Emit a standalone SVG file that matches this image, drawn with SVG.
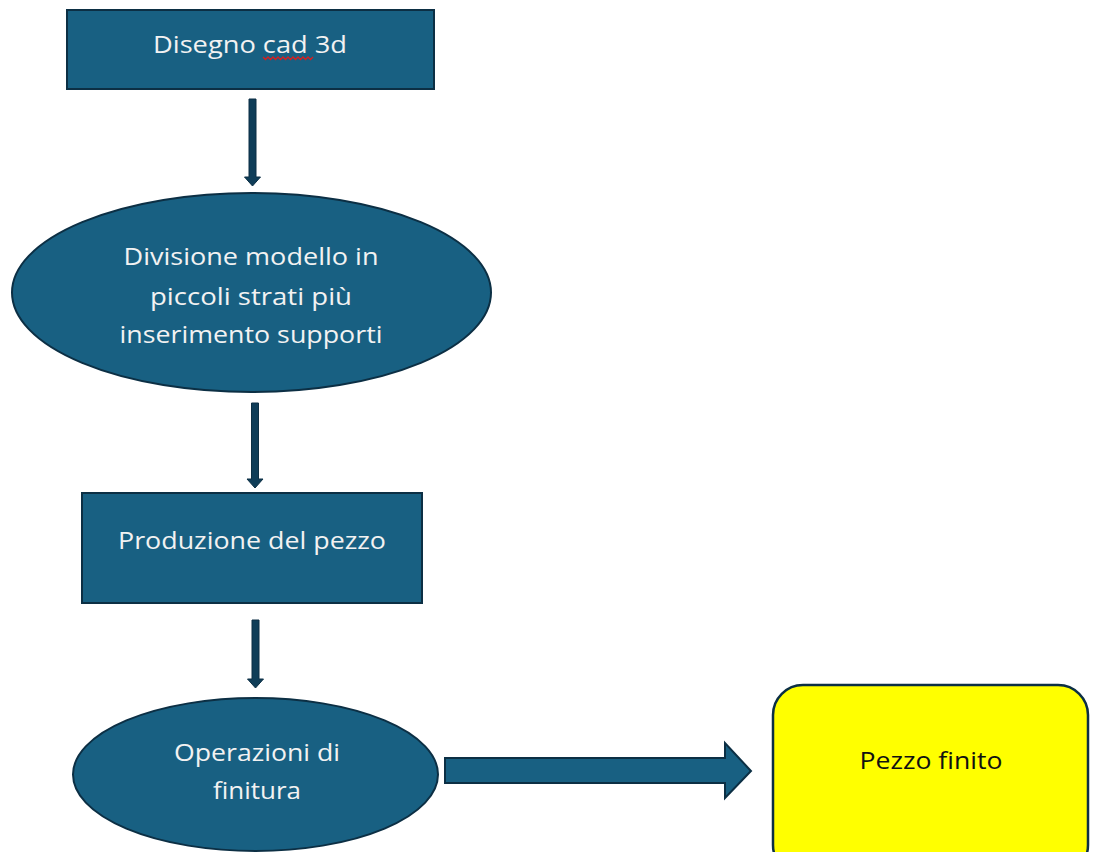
<svg xmlns="http://www.w3.org/2000/svg" width="1094" height="852" viewBox="0 0 1094 852">
<style>
.shape{fill:#186082;stroke:#0c2f44;stroke-width:2}
.lbl{font-family:"Open Sans","Liberation Sans",Arial,sans-serif;font-size:24px;fill:#f2f2f2;text-anchor:middle}
.dark{fill:#111111}
.conn{fill:#0f3d58;stroke:#0c2f44;stroke-width:1}
</style>
<rect width="1094" height="852" fill="#ffffff"/>
<g id="connectors">
<path class="conn" d="M249,99 H256 V177 H260.5 L252.5,186 L244.5,177 H249 Z"/>
<path class="conn" d="M251.5,403 H258.5 V479 H263 L255,488 L247,479 H251.5 Z"/>
<path class="conn" d="M252,620 H259 V679 H263.5 L255.5,688 L247.5,679 H252 Z"/>
<path class="shape" d="M445,758 H725 V743 L751,771 L725,798 V783 H445 Z"/>
</g>
<g id="n1">
<rect class="shape" x="67" y="10" width="367" height="79"/>
<text class="lbl" x="250" y="53" textLength="194" lengthAdjust="spacingAndGlyphs">Disegno cad 3d</text>
<path d="M263,57 l2.5,2.5 l2.5,-2.5 l2.5,2.5 l2.5,-2.5 l2.5,2.5 l2.5,-2.5 l2.5,2.5 l2.5,-2.5 l2.5,2.5 l2.5,-2.5 l2.5,2.5 l2.5,-2.5 l2.5,2.5 l2.5,-2.5 l2.5,2.5 l2.5,-2.5 l2.5,2.5 l2.5,-2.5 l2.5,2.5 l2.5,-2.5" fill="none" stroke="#d42020" stroke-width="1.4"/>
</g>
<g id="n2">
<ellipse class="shape" cx="251.5" cy="292.5" rx="239.5" ry="99.5"/>
<text class="lbl" x="251" y="265" textLength="255" lengthAdjust="spacingAndGlyphs">Divisione modello in</text>
<text class="lbl" x="251" y="305" textLength="202" lengthAdjust="spacingAndGlyphs">piccoli strati più</text>
<text class="lbl" x="251" y="343" textLength="263" lengthAdjust="spacingAndGlyphs">inserimento supporti</text>
</g>
<g id="n3">
<rect class="shape" x="82" y="493" width="340" height="110"/>
<text class="lbl" x="252" y="549" textLength="268" lengthAdjust="spacingAndGlyphs">Produzione del pezzo</text>
</g>
<g id="n4">
<ellipse class="shape" cx="255.5" cy="774.5" rx="182.5" ry="76.5"/>
<text class="lbl" x="257" y="761" textLength="166" lengthAdjust="spacingAndGlyphs">Operazioni di</text>
<text class="lbl" x="257" y="799" textLength="88" lengthAdjust="spacingAndGlyphs">finitura</text>
</g>
<g id="n5">
<rect x="773" y="685" width="315" height="190" rx="30" ry="30" fill="#ffff00" stroke="#0c2f44" stroke-width="2.5"/>
<text class="lbl dark" x="931" y="769" textLength="143" lengthAdjust="spacingAndGlyphs">Pezzo finito</text>
</g>
</svg>
